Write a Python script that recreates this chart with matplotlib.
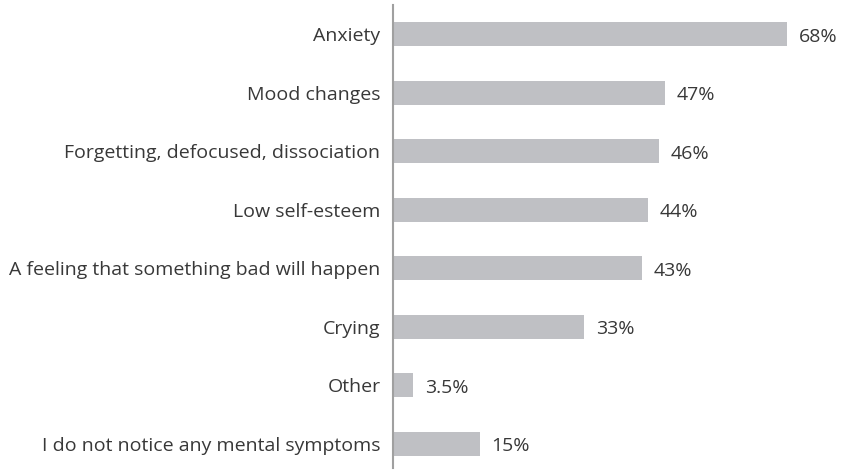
import matplotlib
matplotlib.use("Agg")
import matplotlib.pyplot as plt

categories = ["Anxiety", "Mood changes", "Forgetting, defocused, dissociation",
              "Low self-esteem", "A feeling that something bad will happen",
              "Crying", "Other", "I do not notice any mental symptoms"]
values = [68, 47, 46, 44, 43, 33, 3.5, 15]
value_labels = ["68%", "47%", "46%", "44%", "43%", "33%", "3.5%", "15%"]

plt.rcParams['font.family'] = ['Open Sans', 'DejaVu Sans']
fig = plt.figure(figsize=(8.43, 4.70), dpi=100)
ax = fig.add_axes([393/843, 2/470, 450/843, 463/470])
pos = list(range(len(categories)))
ax.barh(pos, values, height=0.41, color="#bfc0c4")
ax.set_xlim(0, 77.7)
ax.set_ylim(7 + 0.41, -0.5)
ax.set_yticks(pos)
ax.set_yticklabels(categories, fontsize=14, color="#383838")
ax.tick_params(axis='y', length=0, pad=9)
ax.set_xticks([])
for s in ["top", "right", "bottom"]:
    ax.spines[s].set_visible(False)
ax.spines["left"].set_color("#a0a0a0")
ax.spines["left"].set_linewidth(1.5)
for p, v, t in zip(pos, values, value_labels):
    ax.text(v + 2.0, p + 0.04, t, va="center", ha="left", fontsize=14, color="#383838")
fig.savefig("out.png", dpi=100)
